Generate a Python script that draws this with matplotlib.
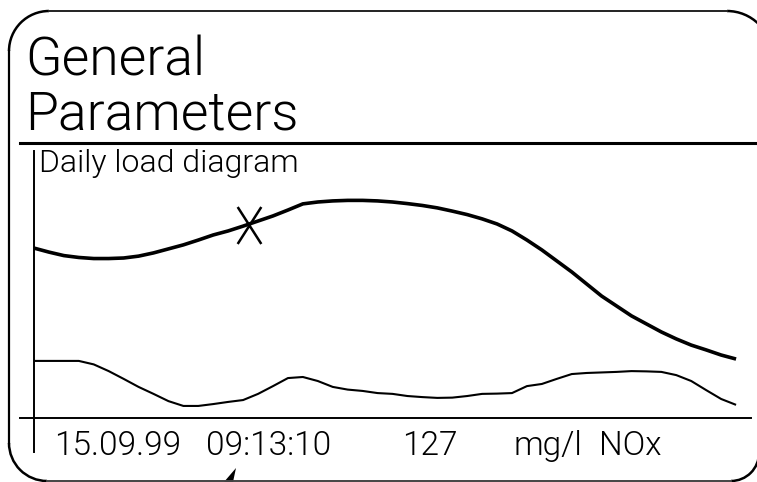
import matplotlib
matplotlib.use("Agg")
import matplotlib.pyplot as plt
from matplotlib import font_manager as fm
from matplotlib.patches import Arc, Polygon
from matplotlib.path import Path

# ---------------- data ----------------
title_lines = ["General", "Parameters"]
subtitle = "Daily load diagram"
footer_texts = ["15.09.99", "09:13:10", "127", "mg/l", "NOx"]

hours = [0, 0.5, 1, 1.5, 2, 2.5, 3, 3.5, 4, 4.5, 5, 5.5, 6, 6.5, 7, 7.5,
         8, 8.5, 9, 9.5, 10, 10.5, 11, 11.5, 12, 12.5, 13, 13.5, 14, 14.5,
         15, 15.5, 16, 16.5, 17, 17.5, 18, 18.5, 19, 19.5, 20, 20.5, 21,
         21.5, 22, 22.5, 23, 23.5]
upper_load = [63.4, 61.9, 60.6, 59.9, 59.5, 59.5, 59.7, 60.4, 61.6, 63.1,
              64.6, 66.4, 68.3, 69.8, 71.6, 73.5, 75.4, 77.6, 79.9, 80.6,
              81.0, 81.2, 81.2, 81.0, 80.6, 80.0, 79.3, 78.4, 77.2, 75.9,
              74.3, 72.4, 69.8, 66.4, 62.7, 58.6, 54.5, 50.0, 45.5, 41.8,
              38.1, 35.1, 32.1, 29.5, 27.2, 25.4, 23.5, 22.0]
lower_load = [21.3, 21.3, 21.3, 21.3, 20.0, 17.5, 14.6, 11.6, 9.0, 6.3,
              4.5, 4.5, 5.2, 6.0, 6.7, 9.0, 11.9, 14.9, 15.3, 13.8,
              11.6, 10.6, 10.1, 9.3, 9.0, 8.2, 7.8, 7.5, 7.6, 8.2,
              9.0, 9.1, 9.3, 11.9, 12.7, 14.6, 16.4, 16.8, 17.0, 17.2,
              17.5, 17.4, 17.2, 16.0, 13.8, 10.4, 7.1, 4.9]
marker_hour = 7.2
marker_value = 72.0


# ---------------- font choice ----------------
def pick_font():
    wmap = fm.weight_dict
    for fam in ["Roboto", "Lato", "Open Sans", "Noto Sans"]:
        for f in fm.fontManager.ttflist:
            w = f.weight
            if isinstance(w, str):
                w = wmap.get(w, 400)
            if f.name == fam and 250 <= w <= 300 and f.style == "normal":
                return f.fname
    return None


light = pick_font()


def fp(size):
    if light:
        return fm.FontProperties(fname=light, size=size)
    return fm.FontProperties(family="Liberation Sans", size=size)


W, H = 757, 482
fig = plt.figure(figsize=(W / 100, H / 100), dpi=100)
fig.patch.set_facecolor("white")

# background axes in pixel coordinates for the device frame
bg = fig.add_axes([0, 0, 1, 1])
bg.set_xlim(0, W)
bg.set_ylim(H, 0)
bg.axis("off")

k = "black"
# frame
bg.plot([49, 727], [11, 11], color="#222222", lw=1.4)
bg.add_patch(Arc((49, 51), 80, 80, theta1=180, theta2=270, color=k, lw=1.8))
bg.add_patch(Arc((727, 56), 90, 90, theta1=270, theta2=360, color=k, lw=1.8))
bg.plot([9, 9], [51, 443], color=k, lw=1.6)
bg.add_patch(Arc((47, 443), 76, 76, theta1=90, theta2=180, color=k, lw=1.8))
bg.plot([47, 731], [481, 481], color="#444444", lw=1.4)
bg.add_patch(Arc((731, 453), 56, 56, theta1=0, theta2=90, color=k, lw=1.8))
bg.add_patch(Polygon([(224, 482), (236, 468), (233, 482)], closed=True,
                     color=k, lw=0))

# header
bg.text(25, 75, title_lines[0], fontproperties=fp(38.5), va="baseline", ha="left")
bg.text(25, 130, title_lines[1], fontproperties=fp(38.5), va="baseline", ha="left")
bg.plot([20, W], [143, 143], color=k, lw=2.2)
bg.text(39, 172, subtitle, fontproperties=fp(23), va="baseline", ha="left")

# axis cross lines
bg.plot([33.5, 33.5], [151, 452], color=k, lw=1.4)
bg.plot([20, 751], [418, 418], color=k, lw=1.4)

# footer text
footer_x = [54, 206, 402, 514, 599]
for tx, s in zip(footer_x, footer_texts):
    bg.text(tx, 455, s, fontproperties=fp(24), va="baseline", ha="left")

# plot axes
ax = fig.add_axes([34 / W, (H - 418) / H, (751 - 34) / W, (418 - 150) / H])
ax.patch.set_alpha(0)
ax.set_xlim(0, 24)
ax.set_ylim(0, 100)
ax.axis("off")

ax.plot(hours, upper_load, color=k, lw=2.6, solid_capstyle="butt",
        solid_joinstyle="round")
ax.plot(hours, lower_load, color=k, lw=1.5, solid_capstyle="butt",
        solid_joinstyle="round")

xm = Path([(-0.32, -0.5), (0.32, 0.5), (-0.32, 0.5), (0.32, -0.5)],
          [Path.MOVETO, Path.LINETO, Path.MOVETO, Path.LINETO])
ax.plot([marker_hour], [marker_value], marker=xm, markersize=26.6,
        markeredgewidth=1.8, markeredgecolor=k, markerfacecolor="none",
        linestyle="none")

fig.savefig("out.png", dpi=100)
